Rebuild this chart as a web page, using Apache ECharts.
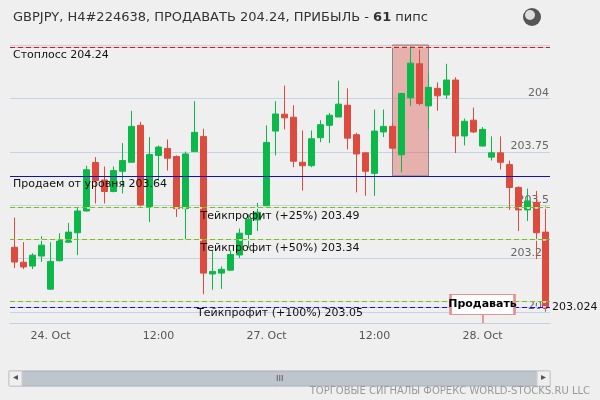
<!DOCTYPE html>
<html>
<head>
<meta charset="utf-8">
<script src="https://cdn.jsdelivr.net/npm/echarts@6/dist/echarts.min.js"></script>
<style>html,body{margin:0;padding:0;background:#efefef}#chart{width:600px;height:400px}</style>
</head>
<body>
<div id="chart"></div>
<script>
// hourly bars, 23 Oct 20:00 .. 28 Oct 07:00 (weekend skipped)
var opens = [203.303,203.233,203.215,203.262,203.107,203.240,203.327,203.371,203.473,203.700,
  203.618,203.564,203.659,203.701,203.874,203.494,203.733,203.766,203.728,203.484,
  203.751,203.822,203.178,203.182,203.196,203.267,203.363,203.431,203.497,203.847,
  203.926,203.912,203.701,203.685,203.816,203.874,203.913,203.968,203.830,203.745,
  203.649,203.843,203.869,203.736,204.003,204.162,203.965,204.047,204.016,204.086,
  203.824,203.898,203.777,203.725,203.745,203.690,203.583,203.478,203.513,203.374];
var closes = [203.234,203.211,203.266,203.313,203.237,203.335,203.374,203.473,203.666,203.615,
  203.564,203.662,203.709,203.869,203.501,203.737,203.772,203.720,203.484,203.740,
  203.841,203.182,203.190,203.200,203.269,203.369,203.434,203.467,203.794,203.927,
  203.909,203.706,203.685,203.811,203.877,203.921,203.973,203.814,203.740,203.659,
  203.847,203.869,203.767,204.023,204.165,203.976,204.052,204.012,204.086,203.824,
  203.893,203.843,203.855,203.745,203.701,203.583,203.478,203.520,203.371,203.024];
var lows = [203.206,203.201,203.201,203.234,203.104,203.237,203.324,203.266,203.470,203.508,
  203.508,203.560,203.555,203.701,203.494,203.421,203.615,203.662,203.445,203.335,
  203.751,203.083,203.104,203.108,203.193,203.253,203.300,203.379,203.497,203.733,
  203.855,203.678,203.568,203.678,203.795,203.791,203.913,203.761,203.560,203.544,
  203.544,203.819,203.764,203.654,203.965,203.968,203.855,203.942,203.997,203.744,
  203.780,203.838,203.775,203.709,203.667,203.478,203.379,203.426,203.248,203.001];
var highs = [203.442,203.327,203.275,203.355,203.327,203.369,203.417,203.492,203.685,203.725,
  203.681,203.681,203.791,203.942,203.890,203.819,203.780,203.808,203.733,203.751,
  203.987,203.858,203.288,203.214,203.288,203.391,203.457,203.511,203.874,203.987,
  204.060,203.968,203.850,203.850,203.898,203.932,204.083,204.047,203.839,203.748,
  203.948,203.948,203.885,204.023,204.244,204.228,204.118,204.075,204.162,204.099,
  203.906,203.957,203.866,203.822,203.822,203.709,203.588,203.578,203.567,203.494];

var tickIndex = [4, 16, 28, 40, 52];
var tickLabels = ['24. Oct', '12:00', '27. Oct', '12:00', '28. Oct'];

var stopLoss = 204.24;
var entry = 203.64;
var entryLine = 203.637;
var tp25 = 203.49, tp50 = 203.34, tp100 = 203.05;
var lastPrice = 203.024;
var zoneFrom = 42, zoneTo = 46;
var signalBar = 52;

var categories = [];
var dayHours = [[23, 20, 4], [24, 0, 24], [27, 0, 24], [28, 0, 8]];
dayHours.forEach(function (d) {
  for (var h = d[1]; h < d[1] + d[2]; h++) categories.push(d[0] + ' Oct ' + h + ':00');
});
var candles = opens.map(function (o, i) { return [o, closes[i], lows[i], highs[i]]; });

var chart = echarts.init(document.getElementById('chart'));
var lbl = function (pos, text) {
  return { show: true, position: pos, formatter: text, color: '#111', fontSize: 11, fontFamily: 'DejaVu Sans', distance: 3 };
};
// level = horizontal line on the value axis (drawn solid, then dashed by a mask of background-coloured gaps)
var hline = function (value, color, label) {
  return { yAxis: value, lineStyle: { color: color, type: 'solid', width: 1, opacity: 1 },
    itemStyle: { color: color }, emphasis: { disabled: true }, label: label };
};
var gaps = function (value) {
  return { yAxis: value, lineStyle: { color: '#efefef', type: [3, 5], dashOffset: -5, width: 1.5, opacity: 1 },
    itemStyle: { color: '#efefef' }, emphasis: { disabled: true }, label: { show: false } };
};

chart.setOption({
  backgroundColor: '#efefef',
  animation: false,
  title: {
    text: '{a|GBPJPY, H4#224638, ПРОДАВАТЬ 204.24, ПРИБЫЛЬ - }{b|61}{a| пипс}',
    left: 8, top: 6,
    textStyle: { fontWeight: 'normal', rich: {
      a: { fontSize: 13, color: '#333', fontWeight: 'normal', fontFamily: 'DejaVu Sans' },
      b: { fontSize: 13, color: '#333', fontWeight: 'bold', fontFamily: 'DejaVu Sans' }
    } }
  },
  grid: { left: 10, right: 50, top: 45, bottom: 88 },
  xAxis: {
    type: 'category', data: categories, offset: 11,
    axisLine: { lineStyle: { color: '#c0d0e0' } },
    axisTick: { length: 9, alignWithLabel: true, lineStyle: { color: '#c0d0e0' },
      interval: function (i) { return tickIndex.indexOf(i) >= 0; } },
    axisLabel: { color: '#555', fontSize: 11, fontFamily: 'DejaVu Sans', margin: 8,
      interval: function (i) { return tickIndex.indexOf(i) >= 0; },
      formatter: function (v, i) { var k = tickIndex.indexOf(i); return k >= 0 ? tickLabels[k] : ''; } },
    splitLine: { show: false }
  },
  yAxis: {
    type: 'value', position: 'right', min: 203, max: 204.25, interval: 0.25,
    axisLine: { show: false }, axisTick: { show: false },
    splitLine: { lineStyle: { color: '#c5d3e6' } },
    axisLabel: { inside: true, margin: 1, verticalAlign: 'bottom', showMaxLabel: false,
      color: '#666', fontSize: 11, fontFamily: 'DejaVu Sans' }
  },
  graphic: [
    { type: 'circle', shape: { cx: 532, cy: 17, r: 9 }, style: { fill: '#555' } },
    { type: 'circle', shape: { cx: 530, cy: 15, r: 5 }, style: { fill: '#ddd' } },
    { type: 'line', shape: { x1: 483, y1: 315, x2: 483, y2: 323 }, style: { stroke: '#e04040', lineWidth: 1 } },
    { type: 'rect', shape: { x: 9, y: 371, width: 541, height: 15 }, style: { fill: '#bfc5cd', stroke: '#aab' } },
    { type: 'rect', shape: { x: 9, y: 371, width: 13, height: 15 }, style: { fill: '#efefef', stroke: '#ccc' } },
    { type: 'rect', shape: { x: 537, y: 371, width: 13, height: 15 }, style: { fill: '#efefef', stroke: '#ccc' } },
    { type: 'text', style: { text: '◂', x: 13, y: 372, fill: '#555', fontSize: 10 } },
    { type: 'text', style: { text: '▸', x: 541, y: 372, fill: '#555', fontSize: 10 } },
    { type: 'text', style: { text: 'III', x: 276, y: 374, fill: '#555', fontSize: 9 } },
    { type: 'text', style: { text: 'ТОРГОВЫЕ СИГНАЛЫ ФОРЕКС WORLD-STOCKS.RU LLC', x: 590, y: 386,
      align: 'right', fill: '#999', fontSize: 10, fontFamily: 'DejaVu Sans' } }
  ],
  series: [{
    type: 'candlestick', data: candles, barWidth: 6,
    itemStyle: { color: '#0cb84a', color0: '#dd4b3e', borderColor: '#0cb84a', borderColor0: '#dd4b3e', borderWidth: 1 },
    markArea: {
      silent: true,
      itemStyle: { color: 'rgba(220,100,90,0.45)', borderColor: '#888', borderWidth: 1 },
      data: [[{ xAxis: zoneFrom, yAxis: entryLine }, { xAxis: zoneTo, yAxis: 204.25 }]]
    },
    markLine: {
      silent: true, symbol: 'none', precision: 3,
      data: [
        hline(stopLoss, '#ee1111', lbl('insideStartBottom', 'Стоплосс ' + stopLoss)),
        hline(entryLine, '#1010cc', lbl('insideStartBottom', 'Продаем от уровня ' + entry)),
        hline(tp25, '#77c022', lbl('insideMiddleBottom', 'Тейкпрофит (+25%) ' + tp25)),
        hline(tp50, '#77c022', lbl('insideMiddleBottom', 'Тейкпрофит (+50%) ' + tp50)),
        hline(tp100, '#77c022', Object.assign(lbl('insideMiddleBottom', 'Тейкпрофит (+100%) ' + tp100), { distance: 6 })),
        hline(lastPrice, '#1010ee', Object.assign(lbl('end', String(lastPrice)), { distance: 2 })),
        gaps(stopLoss), gaps(tp25), gaps(tp50), gaps(tp100), gaps(lastPrice)
      ]
    },
    markPoint: {
      silent: true,
      data: [{ coord: [signalBar, 203.035], symbol: 'rect', symbolSize: [64, 20],
        itemStyle: { color: '#fff', borderColor: '#e89090', borderWidth: 1.5 },
        label: { show: true, formatter: 'Продавать', color: '#000', fontWeight: 'bold', fontSize: 11, fontFamily: 'DejaVu Sans' } }]
    }
  }]
});
</script>
</body>
</html>
